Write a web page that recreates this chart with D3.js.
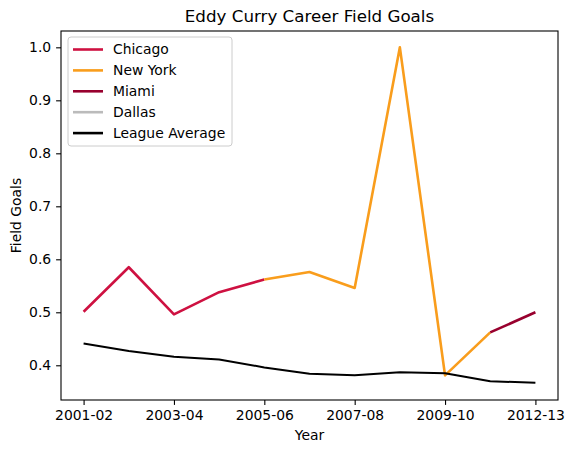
<!DOCTYPE html>
<html>
<head>
<meta charset="utf-8">
<script src="https://cdn.jsdelivr.net/npm/d3@7"></script>
<style>
  body { margin: 0; background: #fff; }
  text { font-family: "DejaVu Sans", sans-serif; fill: #000; }
</style>
</head>
<body>
<svg width="573" height="453"></svg>
<script>
// seasons he played (no 2010-11)
var seasons = ['2001-02','2002-03','2003-04','2004-05','2005-06','2006-07',
               '2007-08','2008-09','2009-10','2011-12','2012-13'];
var tickSeasons = ['2001-02','2003-04','2005-06','2007-08','2009-10','2012-13'];
var yTicks = [0.4, 0.5, 0.6, 0.7, 0.8, 0.9, 1.0];

// each team line runs on to the first season of the next team
var chicago = [0.501, 0.585, 0.496, 0.538, 0.562];          // 2001-02 .. 2005-06
var newYork = [0.562, 0.576, 0.546, 1.000, 0.381, 0.462];   // 2005-06 .. 2011-12
var miami = [0.462, 0.500];                                 // 2011-12 .. 2012-13
var dallas = [0.500];                                       // 2012-13
var leagueAvg = [0.441, 0.427, 0.416, 0.411, 0.396, 0.384,
                 0.381, 0.387, 0.385, 0.370, 0.367];

var teams = [
  {name: 'Chicago', start: 0, values: chicago, color: '#ce1141', width: 2.6},
  {name: 'New York', start: 4, values: newYork, color: '#f99d1c', width: 2.6},
  {name: 'Miami', start: 9, values: miami, color: '#98002e', width: 2.6},
  {name: 'Dallas', start: 10, values: dallas, color: '#bbbbbb', width: 2.6},
  {name: 'League Average', start: 0, values: leagueAvg, color: '#000000', width: 2}
];

var main = function() {
  var svg = d3.select('svg');
  var mLeft = 61, mRight = 558, mTop = 31, mBottom = 400;

  var x = d3.scaleLinear().domain([-0.5, seasons.length - 0.5]).range([mLeft, mRight]);
  var y = d3.scaleLinear().domain([0.3345, 1.0308]).range([mBottom, mTop]);

  var line = d3.line()
    .x(function(d) { return x(d.i); })
    .y(function(d) { return y(d.v); });

  teams.forEach(function(t) {
    var pts = t.values.map(function(v, k) { return {i: t.start + k, v: v}; });
    svg.append('path')
      .datum(pts)
      .attr('d', line)
      .attr('fill', 'none')
      .attr('stroke', t.color)
      .attr('stroke-width', t.width)
      .attr('stroke-linejoin', 'round');
  });

  // axes
  var xAxis = d3.axisBottom(x)
    .tickValues(tickSeasons.map(function(s) { return seasons.indexOf(s); }))
    .tickFormat(function(i) { return seasons[i]; })
    .tickSize(4.9).tickPadding(4.9);
  var yAxis = d3.axisLeft(y)
    .tickValues(yTicks)
    .tickFormat(d3.format('.1f'))
    .tickSize(4.9).tickPadding(4.9);

  var gx = svg.append('g').attr('transform', 'translate(0,' + mBottom + ')').call(xAxis);
  var gy = svg.append('g').attr('transform', 'translate(' + mLeft + ',0)').call(yAxis);
  [gx, gy].forEach(function(g) {
    g.select('.domain').remove();
    g.selectAll('line').attr('stroke', '#000').attr('stroke-width', 1.1);
    g.selectAll('text').style('font-family', '"DejaVu Sans", sans-serif')
      .style('font-size', '13.9px').attr('fill', '#000');
  });

  // frame
  svg.append('rect')
    .attr('x', mLeft).attr('y', mTop)
    .attr('width', mRight - mLeft).attr('height', mBottom - mTop)
    .attr('fill', 'none').attr('stroke', '#000').attr('stroke-width', 1.1);

  svg.append('text')
    .attr('x', (mLeft + mRight) / 2).attr('y', 22)
    .attr('text-anchor', 'middle')
    .style('font-size', '16.7px')
    .text('Eddy Curry Career Field Goals');

  svg.append('text')
    .attr('x', (mLeft + mRight) / 2).attr('y', 440)
    .attr('text-anchor', 'middle')
    .style('font-size', '13.9px')
    .text('Year');

  svg.append('text')
    .attr('transform', 'translate(21,' + (mTop + mBottom) / 2 + ') rotate(-90)')
    .attr('text-anchor', 'middle')
    .style('font-size', '13.9px')
    .text('Field Goals');

  // legend
  var lg = svg.append('g').attr('transform', 'translate(68,37)');
  lg.append('rect')
    .attr('width', 164).attr('height', 109)
    .attr('rx', 3)
    .attr('fill', '#fff').attr('fill-opacity', 0.8)
    .attr('stroke', '#cccccc').attr('stroke-width', 1);

  var items = lg.selectAll('g.item').data(teams).enter().append('g')
    .attr('class', 'item')
    .attr('transform', function(d, i) { return 'translate(0,' + (12.5 + i * 20.9) + ')'; });
  items.append('line')
    .attr('x1', 5).attr('x2', 35)
    .attr('stroke', function(d) { return d.color; })
    .attr('stroke-width', 2.6);
  items.append('text')
    .attr('x', 45).attr('dy', '0.35em')
    .style('font-size', '13.9px')
    .text(function(d) { return d.name; });
};

main();
</script>
</body>
</html>
